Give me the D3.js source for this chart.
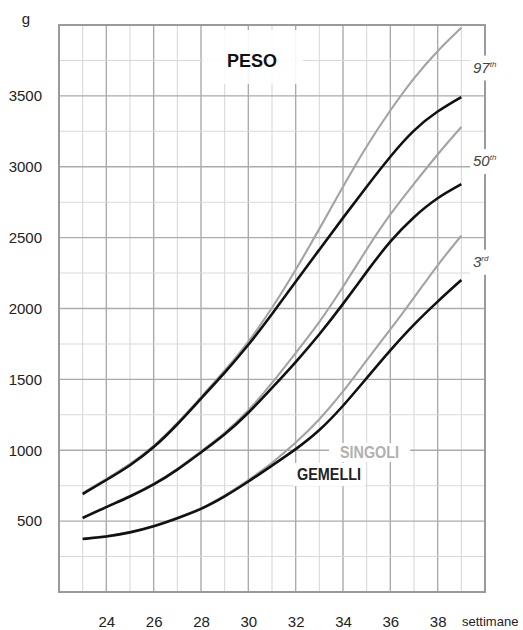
<!DOCTYPE html>
<html><head><meta charset="utf-8">
<script src="https://cdn.jsdelivr.net/npm/d3@7"></script>
<style>body{margin:0;background:#fff}svg{display:block;font-family:"Liberation Sans",Arial,sans-serif}</style>
</head><body>
<svg id="c" width="523" height="630"></svg>
<script>
const weeks = [23,24,25,26,27,28,29,30,31,32,33,34,35,36,37,38,39];
const singoli97 = [698,797,900,1024,1190,1375,1560,1760,2000,2270,2560,2860,3150,3400,3630,3820,3980];
const gemelli97 = [691,790,890,1016,1180,1365,1545,1740,1960,2190,2415,2640,2860,3075,3265,3395,3492];
const singoli50 = [526,603,677,761,866,992,1118,1275,1472,1686,1900,2150,2420,2670,2880,3090,3280];
const gemelli50 = [522,600,672,755,860,985,1108,1260,1440,1620,1815,2030,2260,2480,2650,2785,2877];
const singoli3  = [377,393,421,464,524,586,680,788,908,1051,1213,1410,1637,1850,2075,2310,2514];
const gemelli3  = [374,390,418,461,520,582,672,778,892,1005,1135,1310,1509,1707,1890,2050,2201];
const yTicks = [500,1000,1500,2000,2500,3000,3500];
const xTicks = [24,26,28,30,32,34,36,38];
const gridWeeks = [23,24,25,26,27,28,29,30,31,32,33,34,35,36,37,38,39];
const gridGrams = [250,500,750,1000,1250,1500,1750,2000,2250,2500,2750,3000,3250,3500,3750];
const pctLabels = [{n:"97",s:"th",v:3700},{n:"50",s:"th",v:3040},{n:"3",s:"rd",v:2330}];

const svg = d3.select("#c");
const x = d3.scaleLinear().domain([22,40]).range([59,485]);
const y = d3.scaleLinear().domain([0,4000]).range([592,25]);

// grid
const g = svg.append("g");
g.selectAll("line.v").data(gridWeeks).join("line")
  .attr("x1",d=>x(d)).attr("x2",d=>x(d)).attr("y1",y(0)).attr("y2",y(4000))
  .attr("stroke",d=>d%2===0?"#ababab":"#d9d9d9").attr("stroke-width",d=>d%2===0?1.4:1.1);
g.selectAll("line.h").data(gridGrams).join("line")
  .attr("y1",d=>y(d)).attr("y2",d=>y(d)).attr("x1",x(22)).attr("x2",x(40))
  .attr("stroke",d=>d%500===0?"#ababab":"#d9d9d9").attr("stroke-width",d=>d%500===0?1.4:1.1);

// frame
svg.append("rect").attr("x",x(22)).attr("y",y(4000)).attr("width",x(40)-x(22)).attr("height",y(0)-y(4000))
  .attr("fill","none").attr("stroke","#9a9a9a").attr("stroke-width",2);

// white boxes behind labels
svg.append("rect").attr("x",203).attr("y",30).attr("width",100).attr("height",54).attr("fill","#fff").attr("opacity",0.88);
svg.append("rect").attr("x",329).attr("y",443).attr("width",81).attr("height",19).attr("fill","#fff");
svg.append("rect").attr("x",293).attr("y",463).attr("width",72).attr("height",23).attr("fill","#fff");

// curves
const line = d3.line().x((d,i)=>x(weeks[i])).y(d=>y(d)).curve(d3.curveBasis);
[singoli97,singoli50,singoli3].forEach(s=>{
  svg.append("path").attr("d",line(s)).attr("fill","none").attr("stroke","#a3a3a3").attr("stroke-width",2.1);
});
[gemelli97,gemelli50,gemelli3].forEach(s=>{
  svg.append("path").attr("d",line(s)).attr("fill","none").attr("stroke","#111").attr("stroke-width",2.6);
});

// axes
const ya = svg.append("g").attr("transform",`translate(${x(22)},0)`)
  .call(d3.axisLeft(y).tickValues(yTicks).tickSize(0).tickPadding(17).tickFormat(d3.format("d")));
ya.select(".domain").remove();
ya.selectAll("text").attr("font-size",15).attr("fill","#222").attr("font-family","Liberation Sans, Arial, sans-serif");
const xa = svg.append("g").attr("transform",`translate(0,${y(0)})`)
  .call(d3.axisBottom(x).tickValues(xTicks).tickSize(0).tickPadding(24));
xa.select(".domain").remove();
xa.selectAll("text").attr("font-size",15).attr("fill","#222").attr("font-family","Liberation Sans, Arial, sans-serif");

svg.append("text").attr("x",26).attr("y",24).attr("text-anchor","middle").attr("font-size",15).attr("fill","#222").text("g");
svg.append("text").attr("x",462).attr("y",626).attr("font-size",13).attr("fill","#222").text("settimane");

// percentile labels
pctLabels.forEach(p=>{
  const cy = y(p.v);
  svg.append("rect").attr("x",470).attr("y",cy-12).attr("width",30).attr("height",25).attr("fill","#fff");
  const t = svg.append("text").attr("x",473).attr("y",cy+5).attr("font-size",15).attr("font-style","italic").attr("fill","#444");
  t.append("tspan").text(p.n);
  t.append("tspan").attr("font-size",8).attr("dy",-6).text(p.s);
});

// titles
svg.append("text").attr("x",252).attr("y",67).attr("text-anchor","middle").attr("font-size",18).attr("font-weight","bold").attr("fill","#111").text("PESO");
svg.append("text").attr("x",340).attr("y",458).attr("font-size",16).attr("font-weight","bold").attr("fill","#b0b0b0")
  .attr("textLength",59).attr("lengthAdjust","spacingAndGlyphs").text("SINGOLI");
svg.append("text").attr("x",297).attr("y",480).attr("font-size",16).attr("font-weight","bold").attr("fill","#222")
  .attr("textLength",64).attr("lengthAdjust","spacingAndGlyphs").text("GEMELLI");
</script>
</body></html>
